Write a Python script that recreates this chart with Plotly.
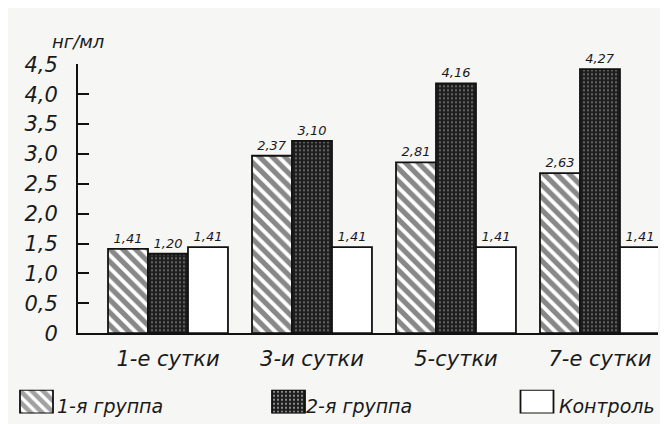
import plotly.graph_objects as go

# ---- data ----
categories = ["1-е сутки", "3-и сутки", "5-сутки", "7-е сутки"]
series_names = ["1-я группа", "2-я группа", "Контроль"]
group1 = [1.41, 2.97, 2.86, 2.68]
group2 = [1.33, 3.22, 4.18, 4.42]
control = [1.44, 1.44, 1.44, 1.44]
group1_labels = ["1,41", "2,37", "2,81", "2,63"]
group2_labels = ["1,20", "3,10", "4,16", "4,27"]
control_labels = ["1,41", "1,41", "1,41", "1,41"]
ytick_vals = [0, 0.5, 1.0, 1.5, 2.0, 2.5, 3.0, 3.5, 4.0, 4.5]
ytick_text = ["0", "0,5", "1,0", "1,5", "2,0", "2,5", "3,0", "3,5", "4,0", "4,5"]
y_unit = "нг/мл"

W, H = 668, 424
FONT = "DejaVu Sans"
INK = "#1a1a1a"
BG = "#f6f6f4"

def fnt(size):
    return dict(family=FONT, size=size, color=INK, style="italic")

styles = [
    dict(color="white", pattern=dict(shape="\\", bgcolor="white", fgcolor="#111", size=9, solidity=0.58)),
    dict(color="#1c1c1c", pattern=dict(shape=".", bgcolor="#1c1c1c", fgcolor="#b0b0b0", size=4, solidity=0.25)),
    dict(color="white"),
]

fig = go.Figure()
for name, vals, labels, st in zip(series_names, [group1, group2, control],
                                  [group1_labels, group2_labels, control_labels], styles):
    fig.add_trace(go.Bar(
        x=categories, y=vals, name=name, text=labels, texttemplate="%{text}",
        textposition="outside", textfont=fnt(13), constraintext="none", cliponaxis=False,
        marker=dict(line=dict(color="#111", width=1.8), **st),
        showlegend=False, hoverinfo="skip",
    ))

# legend swatches drawn on a hidden auxiliary axis
leg_x = [28.5, 280.5, 529]
leg_text_x = [47, 296, 549]
fig.add_trace(go.Bar(
    x=leg_x, y=[1, 1, 1], width=[33, 33, 33], xaxis="x2", yaxis="y2",
    marker=dict(
        color=["white", "#1c1c1c", "white"],
        line=dict(color="#111", width=1.8),
        pattern=dict(shape=["\\", ".", ""], bgcolor=["white", "#1c1c1c", "white"],
                     fgcolor=["#111", "#b0b0b0", "white"], size=[8, 4, 8], solidity=[0.58, 0.25, 0.2]),
    ),
    showlegend=False, hoverinfo="skip",
))

annotations = [dict(x=tx / W, y=1 - 409 / H, xref="paper", yref="paper", text=n, showarrow=False,
                    xanchor="left", yanchor="middle", font=fnt(19))
               for tx, n in zip(leg_text_x, series_names)]
annotations.append(dict(x=42 / W, y=1 - 23 / H, xref="paper", yref="paper", text=y_unit,
                        showarrow=False, xanchor="left", yanchor="middle", font=fnt(18)))

fig.update_layout(
    width=W, height=H, margin=dict(l=0, r=0, t=0, b=0),
    paper_bgcolor=BG, plot_bgcolor=BG,
    barmode="group", bargap=0.167, bargroupgap=0,
    font=fnt(16),
    xaxis=dict(domain=[70 / W, 650 / W], range=[-0.625, 3.403], type="category",
               showline=True, linecolor="#111", linewidth=2, ticks="", showgrid=False,
               tickfont=fnt(21), ticklabelstandoff=6),
    yaxis=dict(domain=[1 - 332 / H, 1 - 47 / H], range=[0, 4.5], tickvals=ytick_vals, ticktext=ytick_text,
               showline=True, linecolor="#111", linewidth=2, ticks="inside", ticklen=11, tickwidth=2,
               tickcolor="#111", showgrid=False, zeroline=False, tickfont=fnt(21), ticklabelstandoff=14),
    xaxis2=dict(domain=[0, 1], range=[0, W], visible=False, anchor="y2"),
    yaxis2=dict(domain=[1 - 417 / H, 1 - 392 / H], range=[0, 1], visible=False, anchor="x2"),
    annotations=annotations,
)

fig.write_html("out.html")
